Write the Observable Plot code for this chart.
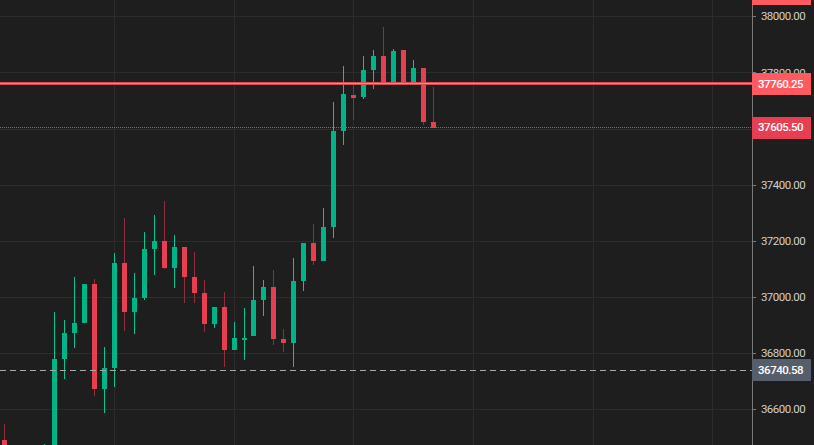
<!DOCTYPE html>
<html>
<head>
<meta charset="utf-8">
<script src="https://cdn.jsdelivr.net/npm/d3@7"></script>
<script src="https://cdn.jsdelivr.net/npm/@observablehq/plot@0.6"></script>
<style>
html,body{margin:0;padding:0;background:#1e1e1e;overflow:hidden}
</style>
</head>
<body>
<div id="chart"></div>
<script>
const index = [-5,-1,0,1,2,3,4,5,6,7,8,9,10,11,12,13,14,15,16,17,18,19,20,21,22,23,24,25,26,27,28,29,30,31,32,33,34,35,36,37,38];
const open = [36490.6,36400,36400,36779.2,36871.8,36907.4,37046.4,36672.3,36747.1,37121.2,36946.6,36996.5,37171,37199.5,37103.4,37178.2,37071.3,37014.3,36903.9,36964.4,36811.2,36847,36861.1,36989.4,37035.7,36850.4,36836.2,37057.1,37192.4,37128.3,37249.4,37591.4,37719.6,37712.5,37808.7,37858.6,37762.4,37880,37766,37815.8,37623.5];
const close = [36420,36430,36779.2,36871.8,36907.4,37046.4,36672.3,36747.1,37121.2,36946.6,36996.5,37171,37199.5,37103.4,37178.2,37071.3,37014.3,36903.9,36964.4,36811.2,36854,36854,36989.4,37035.7,36850.4,36836.2,37057.1,37192.4,37128.3,37249.4,37591.4,37723.2,37709,37808.7,37858.6,37758.8,37876.4,37766,37815.8,37623.5,37602.1];
const high = [36547.6,36476.4,36946.6,36918.1,37071.3,37046.4,37064.2,36821.9,37156.8,37281.5,37085.6,37231.6,37292.2,37342,37220.9,37178.2,37160.4,37060.6,36964.4,37017.9,36911,36960.8,37110.5,37060.6,37096.2,36886.1,37139,37192.4,37260.1,37317.1,37694.7,37823,37762.4,37858.6,37880,37961.9,37883.5,37880,37844.3,37815.8,37748.1];
const low = [36420,36400,36400,36708,36818.4,36907.4,36647.4,36586.8,36679.4,36878.9,36868.3,36989.4,37078.4,37099.8,37032.1,36978.7,36978.7,36875.4,36889.6,36750.7,36811.2,36775.6,36861.1,36932.4,36829.1,36804.1,36750.7,37021.4,37114.1,37128.3,37210.2,37541.5,37630.6,37705.4,37741,37755.3,37762.4,37766,37815.8,37612.8,37602.1];

const yTicks = [38000,37800,37600,37400,37200,37000,36800,36600];
const xGrid = [6,18,30,42,54,66];
const resistance = [37760.25];
const lastPrice = [37605.50];
const markPrice = [36740.58];
const offTopLabel = [38083];

const bg = "#1e1e1e", grid = "#2c2c2c", up = "#00b488", down = "#e63f52";
const upWick = "#00c896", downWick = "#8f2f3c";
const resColor = "#ff5a5f", markColor = "#565e6b";
const panelLeft = 69.98, labelRight = 75.9, frameRight = 76.3, labelMid = 72.94;
const font = "Roboto, sans-serif";

const candles = index.map((i, k) => ({i, open: open[k], close: close[k], high: high[k], low: low[k], up: close[k] >= open[k]}));
const crisp = {shapeRendering: "crispEdges"};
const fmt = d3.format(".2f");
const tag = (vals, fill) => Plot.ruleY(vals, {x1: panelLeft, x2: labelRight, stroke: fill, strokeWidth: 22, clip: false, ...crisp});
const tagText = (vals) => Plot.text(vals, {x: labelMid, y: d => d, text: fmt, fill: "#ffffff", fontSize: 11.5, fontFamily: font, fontWeight: 500, textAnchor: "middle", dx: -1.5, clip: false});

const chart = Plot.plot({
  width: 814, height: 445,
  marginLeft: 0, marginRight: 62, marginTop: 0, marginBottom: 0,
  style: {background: bg, fontFamily: font, overflow: "hidden", letterSpacing: "-0.5px"},
  x: {domain: [-5.414, 69.98], axis: null},
  y: {domain: [36472.8, 38058.1], axis: null},
  marks: [
    Plot.ruleX(xGrid, {stroke: grid, strokeWidth: 1, ...crisp}),
    Plot.ruleY(yTicks, {stroke: grid, strokeWidth: 1, ...crisp}),
    Plot.ruleX(candles, {x: "i", y1: "low", y2: "high", stroke: d => d.up ? upWick : downWick, strokeWidth: 1, ...crisp}),
    Plot.ruleX(candles, {x: "i", y1: "open", y2: "close", stroke: d => d.up ? up : down, strokeWidth: 5, ...crisp}),
    Plot.ruleY(markPrice, {stroke: "#a8a8a8", strokeWidth: 1, strokeDasharray: "6,4", ...crisp}),
    Plot.ruleY(lastPrice, {stroke: down, strokeWidth: 1, strokeDasharray: "1,1", ...crisp}),
    Plot.ruleY(resistance, {stroke: "#d94b52", strokeWidth: 3, dy: -1, ...crisp}),
    Plot.ruleY(resistance, {stroke: "#f08a8c", strokeWidth: 1, dy: -1, ...crisp}),
    Plot.ruleX([panelLeft], {stroke: "#7a7a7a", strokeWidth: 1, clip: false, ...crisp}),
    Plot.ruleY(yTicks, {x1: panelLeft, x2: panelLeft + 0.4, stroke: "#7a7a7a", clip: false, ...crisp}),
    Plot.text(yTicks, {x: labelMid, y: d => d, text: fmt, fill: "#d0d0d0", fontSize: 11.5, fontFamily: font, textAnchor: "middle", dx: 1, clip: false}),
    tag(offTopLabel, resColor),
    tag(resistance, resColor),
    tag(lastPrice, down),
    tag(markPrice, markColor),
    tagText(resistance),
    tagText(lastPrice),
    tagText(markPrice),
    Plot.ruleX([frameRight], {stroke: "#131313", strokeWidth: 3, clip: false, ...crisp})
  ]
});
document.getElementById("chart").append(chart);
</script>
</body>
</html>
